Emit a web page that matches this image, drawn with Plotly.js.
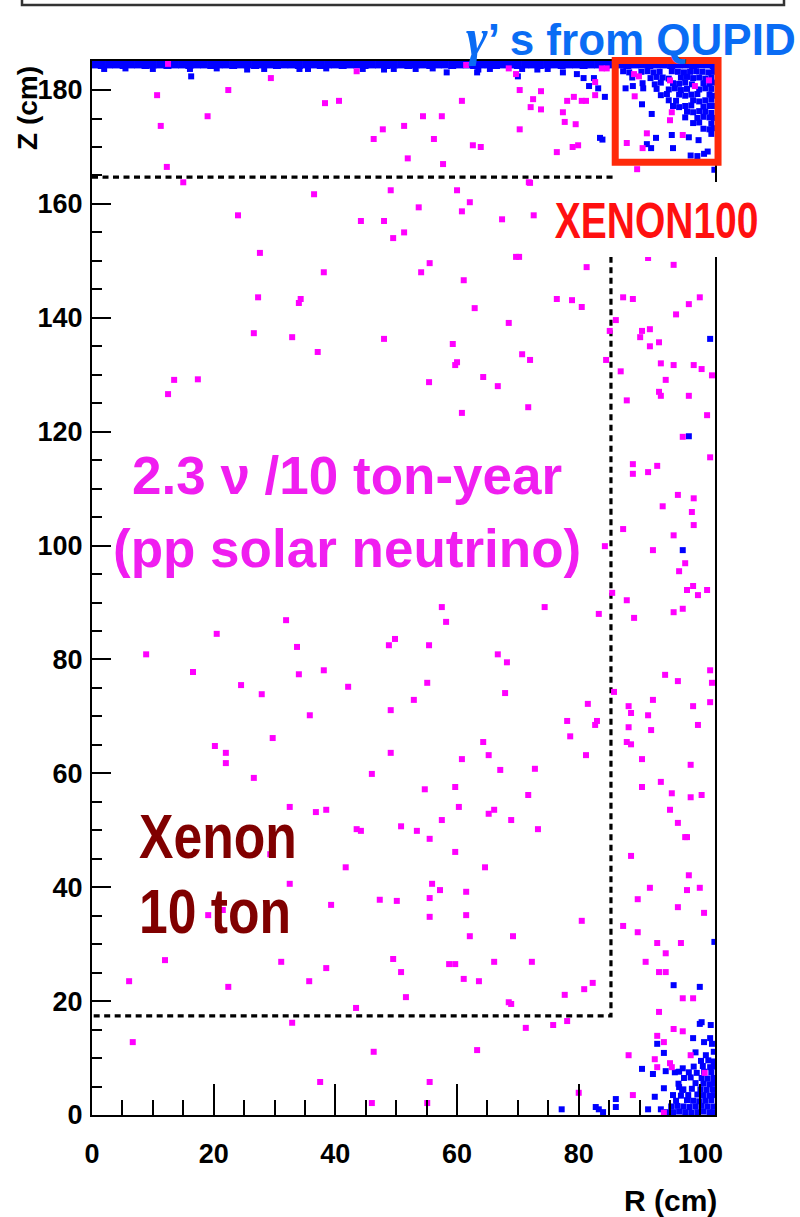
<!DOCTYPE html>
<html>
<head>
<meta charset="utf-8">
<script src="https://cdn.plot.ly/plotly-3.0.1.min.js"></script>
<style>
  html, body { margin: 0; padding: 0; background: #ffffff; }
  #chart { width: 800px; height: 1217px; }
</style>
</head>
<body>
<div id="chart"></div>
<script>
// ---------------- DATA (R in cm, Z in cm) ----------------
// pp solar neutrino events (magenta)
const neutrinoPts = [
  [12.5,184.6],[10.7,179.1],[11.3,173.7],[12.3,166.5],[15.0,163.8],[19.0,175.4],[22.4,180.0],[29.4,182.1],
  [38.3,177.7],[40.6,178.1],[43.5,183.3],[46.3,171.4],[47.8,173.1],[51.3,173.7],[51.9,168.0],[54.4,175.4],
  [56.2,171.4],[57.5,175.4],[57.7,167.0],[60.8,178.1],[61.5,184.4],[62.6,170.3],[63.9,170.0],[68.5,183.8],
  [69.7,182.8],[70.3,180.0],[70.3,173.1],[71.8,163.8],[72.1,177.0],[72.5,178.4],[73.8,179.8],[73.8,176.6],
  [76.4,169.1],[77.4,176.1],[77.7,174.4],[78.1,178.1],[79.0,170.0],[79.2,178.8],[79.5,174.0],[79.9,170.3],
  [80.5,178.1],[81.2,178.1],[82.7,181.4],[82.7,179.1],[83.8,183.8],[84.6,183.8],
  [89.1,182.8],[89.9,182.4],[95.0,181.7],[99.1,180.7],[101.4,181.7],[89.2,178.9],[95.3,176.1],[95.0,174.7],
  [91.2,172.4],[97.1,172.1],[87.9,170.7],[90.5,169.8],[89.6,166.1],
  [24.0,158.0],[36.5,161.7],[49.1,162.4],[60.0,162.4],[62.1,160.3],[60.8,158.7],[53.7,159.4],[72.0,163.7],
  [72.6,158.0],[44.2,157.0],[48.0,157.0],[49.5,154.0],[51.3,155.0],[67.4,157.3],[27.6,151.4],[38.1,148.0],
  [54.1,148.0],[55.5,149.6],[69.7,150.7],[70.2,150.7],[61.1,146.6],[27.3,143.6],[34.0,142.6],[34.3,143.3],
  [62.9,141.7],[68.5,139.1],[26.6,137.3],[32.9,136.6],[48.0,136.3],[37.1,134.0],[59.3,135.4],[60.0,132.2],
  [59.7,131.7],[70.7,133.6],[72.0,132.6],[55.4,128.7],[64.3,129.6],[66.7,128.0],[12.5,126.6],[13.5,129.1],
  [17.4,129.2],[60.8,123.3],[71.7,124.3],[76.4,143.3],[78.9,143.1],
  [81.3,148.9],[95.6,149.3],[91.4,150.5],[87.3,143.6],[88.9,143.3],[99.9,143.6],[98.1,142.4],[80.5,141.9],
  [96.0,140.6],[86.1,139.6],[85.1,137.7],[90.4,137.7],[91.7,138.0],[90.1,136.6],[93.2,135.7],[91.7,135.0],
  [84.5,132.6],[93.5,132.0],[95.6,131.7],[98.9,131.7],[100.2,131.0],[86.9,130.6],[101.9,129.9],[94.3,129.1],
  [93.2,127.0],[93.5,126.3],[98.1,126.3],[87.9,125.5],[101.1,122.9],[97.1,119.1],[101.6,115.5],[88.9,114.3],
  [88.9,112.6],[92.9,114.0],[91.4,112.9],[96.3,108.9],[98.9,108.3],[93.8,106.9],[98.6,105.9],[98.9,103.6],
  [87.3,102.9],[95.6,101.8],[92.2,99.2],[97.5,96.9],[96.5,95.5],[98.8,92.9],[97.8,92.2],[99.6,91.3],
  [101.1,92.2],[85.5,91.7],[87.9,90.4],[84.3,99.9],
  [83.3,88.0],[89.1,87.3],[95.6,88.3],[97.1,88.9],[101.6,78.1],[94.2,77.3],[96.3,76.2],[101.9,75.9],
  [85.8,74.3],[92.2,72.9],[101.6,72.5],[81.5,72.2],[88.2,71.8],[98.8,71.8],[88.6,70.6],[91.4,70.2],
  [83.0,69.2],[82.7,68.5],[88.2,68.1],[99.6,68.5],[91.9,67.6],[87.9,65.5],[88.6,65.1],[81.2,63.2],
  [90.4,62.5],[98.4,61.5],[93.5,58.5],[90.4,57.6],[95.3,56.5],[98.4,55.8],[100.2,56.2],[95.0,53.6],
  [96.3,51.3],[97.5,48.8],[97.8,48.8],[88.6,45.5],[98.1,42.1],[91.7,39.9],[97.8,39.5],[99.9,39.9],[89.7,37.9],
  [96.3,36.5],[100.6,35.5],[80.5,34.1],[87.3,33.2],[89.7,32.1],[92.9,30.2],[96.8,30.2],[94.3,28.4],
  [91.0,26.9],[93.2,25.1],[94.3,25.1],[82.3,23.2],[80.9,22.1],[77.7,21.1],[97.1,20.5],[98.8,20.5],
  [93.2,18.1],[75.8,15.8],[78.1,16.5],[95.6,15.1],[97.1,14.7],[92.9,13.9],[94.0,12.8],[88.2,10.5],
  [92.5,9.8],[98.4,10.5],[92.9,8.4],[95.0,9.1],[95.3,8.4],[100.7,7.4],[80.0,3.9],[88.9,3.5],[94.0,0.4],
  [57.5,89.2],[58.2,86.6],[31.9,86.9],[20.5,84.5],[8.9,80.9],[16.6,77.8],[33.7,82.2],[34.0,77.4],
  [38.1,78.1],[24.5,75.5],[27.9,73.9],[35.8,70.2],[42.1,75.2],[48.8,82.5],[49.8,83.6],[55.4,82.5],
  [55.1,75.9],[52.9,72.9],[49.1,71.1],[66.7,80.9],[68.2,79.5],[67.9,74.1],[20.2,64.8],[22.0,63.6],
  [22.0,61.8],[29.7,66.2],[26.6,59.2],[49.1,63.6],[60.8,62.5],[64.3,65.5],[65.2,63.2],[67.1,60.6],
  [72.8,60.8],[46.0,59.9],[54.7,57.2],[59.7,57.6],[71.7,56.2],[32.5,54.1],[36.8,53.2],[38.5,53.6],
  [60.3,54.1],[65.2,52.9],[66.1,53.6],[57.5,51.8],[68.9,51.8],[50.8,50.7],[43.5,50.2],[44.2,49.9],
  [53.4,49.9],[55.5,48.5],[73.3,50.2],[59.7,46.2],[29.3,45.8],[41.7,43.5],[64.6,43.5],[32.5,40.6],
  [55.9,40.6],[57.2,39.5],[55.5,38.1],[61.5,39.2],[47.3,37.8],[50.1,37.6],[39.3,36.9],[55.5,34.8],
  [61.5,35.1],[19.1,35.1],[21.5,36.0],[62.1,31.4],[69.2,31.4],[12.0,27.2],[31.1,26.9],[38.5,25.8],
  [49.5,27.4],[50.8,25.1],[58.7,26.5],[59.7,26.5],[66.1,26.9],[72.3,26.9],[6.1,23.5],[22.4,22.5],
  [35.7,23.5],[61.1,23.9],[63.6,23.5],[51.6,20.7],[43.4,18.8],[68.5,19.8],[68.9,19.5],[32.9,16.2],
  [71.3,15.3],[74.4,89.2],[78.1,69.2],[78.6,66.5],
  [6.7,12.8],[37.5,5.8],[46.3,11.1],[46.0,2.1],[55.1,2.1],[55.5,5.8],[63.3,11.4]
];

// gamma events from QUPIDs (blue): top face band
const gammaBandR = [0.4,1.6,2.8,4.0,5.2,6.4,7.6,8.8,10.0,11.2,12.4,13.6,14.8,16.0,17.2,18.4,19.6,20.8,22.0,23.2,
  24.4,25.6,26.8,28.0,29.2,30.4,31.6,32.8,34.0,35.2,36.4,37.6,38.8,40.0,41.2,42.4,43.6,44.8,46.0,47.2,
  48.4,49.6,50.8,52.0,53.2,54.4,55.6,56.8,58.0,59.2,60.4,61.6,62.8,64.0,65.2,66.4,67.6,68.8,70.0,71.2,
  72.4,73.6,74.8,76.0,77.2,78.4,79.6,80.8,82.0,83.2,84.4,85.6,86.8,88.0,89.2,90.4,91.6,92.8,94.0,95.2,
  96.4,97.6,98.8,100.0,101.2,102.2];
const gammaBandZ = [184.5,184.4,184.5,184.5,184.4,184.5,184.5,184.4,184.5,184.5,184.4,184.5,184.5,184.4,184.5,184.5,184.4,184.5,184.5,184.4,
  184.5,184.5,184.4,184.5,184.5,184.4,184.5,184.5,184.4,184.5,184.5,184.4,184.5,184.5,184.4,184.5,184.5,184.4,184.5,184.5,
  184.4,184.5,184.5,184.4,184.5,184.5,184.4,184.5,184.5,184.4,184.5,184.5,184.4,184.5,184.5,184.4,184.5,184.5,184.4,184.5,
  184.5,184.4,184.5,184.5,184.4,184.5,184.5,184.4,184.5,184.5,184.4,184.5,184.5,184.4,184.5,184.5,184.4,184.5,184.5,184.4,
  184.5,184.5,184.4,184.5,184.5,184.4];

// gamma events from QUPIDs (blue): individual hits
const gammaPts = [
  [16.3,182.4],[58.3,183.1],[63.3,183.1],[70.0,182.4],[77.4,183.1],[79.7,182.8],[80.8,182.1],[81.7,180.7],
  [82.5,182.1],[83.2,180.3],[84.3,178.8],[83.5,171.6],[83.9,171.3],[87.7,180.3],[88.9,180.7],[90.6,180.3],
  [90.4,177.5],[92.0,175.8],[95.3,172.1],[92.7,171.6],[91.2,170.5],[91.9,169.8],[95.5,169.8],[98.1,171.7],
  [99.7,171.2],[98.4,168.5],[99.5,168.4],[100.6,168.8],[101.2,169.2],[102.3,166.0],
  [2.0,183.7],[5.5,183.8],[10.0,183.7],[16.1,183.7],[20.5,183.8],[25.5,183.6],[28.3,183.7],[34.1,183.7],
  [35.5,183.7],[38.5,183.8],[44.5,183.7],[48.0,183.6],[49.6,183.7],[53.2,183.7],[56.0,183.8],[63.5,183.6],
  [65.4,183.7],[70.7,183.7],[73.2,183.6],[74.9,183.7],
  // top-right corner (near the QUPIDs)
  [87.3,183.3],[88.3,183.1],[90.3,183.2],[91.3,183.3],[92.3,183.1],[93.3,183.2],[95.3,183.3],
  [96.3,183.2],[97.3,183.1],[98.3,183.2],[99.3,183.3],[100.3,183.2],[101.3,183.1],[102.2,183.2],
  [88.8,182.2],[91.8,182.1],[92.8,182.3],[93.8,182.2],[94.8,182.0],[96.8,182.2],
  [97.8,182.3],[98.8,182.1],[99.8,182.2],[100.8,182.0],[101.8,182.2],
  [90.5,181.2],[92.5,181.0],[93.5,181.3],[95.5,181.2],[96.5,181.1],[97.5,181.3],[98.6,181.0],[100.5,181.2],
  [101.5,181.1],[102.2,181.3],
  [92.8,180.2],[94.8,180.1],[95.8,180.3],[96.8,180.0],[97.8,180.2],[99.8,180.1],[100.8,180.3],[101.8,180.2],
  [93.5,179.1],[94.5,179.3],[96.5,179.2],[97.5,179.0],[98.5,179.2],[99.5,179.3],[101.5,179.2],[102.2,179.0],
  [94.8,178.2],[96.0,178.1],[98.8,178.2],[99.8,178.0],[100.8,178.2],[101.8,178.3],
  [95.5,177.2],[96.5,177.0],[97.5,177.2],[98.5,177.3],[100.5,177.1],[101.5,177.2],[102.2,177.2],
  [97.8,176.2],[98.8,176.1],[99.8,176.3],[100.8,176.2],[101.8,176.0],
  [97.5,175.2],[99.5,175.1],[100.5,175.3],[101.5,175.2],[102.2,175.1],
  [98.8,174.2],[99.8,174.3],[101.8,174.1],
  [100.5,173.2],[101.5,173.1],[102.2,173.3],[101.8,172.3],
  // middle
  [101.6,136.3],[98.1,119.2],[97.1,99.2],
  // bottom-right corner
  [94.5,0.5],[95.5,0.5],[96.5,0.6],[97.5,0.5],[98.5,0.4],[99.5,0.5],[100.5,0.6],[101.5,0.5],[102.2,0.5],
  [95.2,1.5],[96.2,1.6],[97.2,1.5],[98.2,1.4],[99.2,1.5],[100.2,1.6],[101.2,1.5],[102.2,1.5],
  [96.0,2.5],[97.8,2.6],[98.8,2.5],[99.8,2.4],[100.8,2.5],[101.8,2.6],
  [95.5,3.5],[96.8,3.4],[98.0,3.5],[99.5,3.6],[100.5,3.5],[101.5,3.4],[102.2,3.5],
  [97.2,4.5],[98.6,4.6],[100.0,4.5],[101.0,4.4],[102.0,4.5],
  [96.4,5.5],[99.2,5.6],[100.5,5.5],[101.5,5.4],[102.2,5.5],
  [97.3,6.5],[98.4,6.6],[100.2,6.5],[101.2,6.4],[102.2,6.5],
  [95.8,7.5],[99.4,7.4],[100.6,7.6],[101.8,7.5],
  [98.9,8.5],[100.4,8.6],[101.6,8.4],[102.2,8.5],
  [100.1,9.5],[101.3,9.6],[102.2,9.4],
  [102.3,30.4],[95.6,22.8],[99.9,22.5],[99.9,16.0],[100.2,16.3],[101.7,15.8],[98.8,13.5],[92.9,12.5],
  [100.6,12.8],[101.6,13.5],[101.9,12.5],[94.0,10.9],[102.2,11.1],[90.4,8.1],[94.3,7.7],[92.2,7.2],
  [97.1,8.2],[98.1,7.5],[96.5,7.6],[94.0,4.7],[92.5,3.2],[86.1,2.8],[86.1,1.4],[82.8,1.4],
  [83.3,1.0],[84.0,0.5],[77.2,1.0],[91.4,1.0],[93.5,1.0],[96.5,4.9],[97.0,4.4],[99.2,11.0],[100.9,10.5]
];

// fiducial volume boundary (dashed)
const fiducialR = [0, 85.3, 85.3, 0];
const fiducialZ = [164.7, 164.7, 17.4, 17.4];

// QUPID highlight box (data coords)
const qupidBoxR = [86.0, 102.9];
const qupidBoxZ = [167.3, 185.2];

const xTickVals = [0, 20, 40, 60, 80, 100];
const yTickVals = [0, 20, 40, 60, 80, 100, 120, 140, 160, 180];
const xRange = [0, 102.4];
const yRange = [0, 185.1];

// ---------------- LAYOUT HELPERS ----------------
const W = 800, H = 1217;
const M = {l: 92, r: 85, t: 61, b: 102};
const PW = W - M.l - M.r, PH = H - M.t - M.b;
const px = x => (x - M.l) / PW;          // pixel -> paper x
const py = y => (H - M.b - y) / PH;      // pixel -> paper y
const dx = v => (v - xRange[0]) / (xRange[1] - xRange[0]);
const dy = v => (v - yRange[0]) / (yRange[1] - yRange[0]);

const SANS = 'Liberation Sans, Arial, sans-serif';

const traces = [
  {
    x: fiducialR, y: fiducialZ, type: 'scatter', mode: 'lines',
    line: {color: '#000000', width: 3.2, dash: '6px,4.5px'}, hoverinfo: 'skip'
  },
  {
    x: gammaBandR, y: gammaBandZ, type: 'scatter', mode: 'markers',
    marker: {symbol: 'square', size: 8, color: '#0000ff', line: {width: 0}}
  },
  {
    x: gammaPts.map(p => p[0]), y: gammaPts.map(p => p[1]), type: 'scatter', mode: 'markers',
    marker: {symbol: 'square', size: 6, color: '#0000ff', line: {width: 0}}
  },
  {
    x: neutrinoPts.map(p => p[0]), y: neutrinoPts.map(p => p[1]), type: 'scatter', mode: 'markers',
    marker: {symbol: 'square', size: 6, color: '#ff00ff', line: {width: 0}}
  }
];

const axisCommon = {
  showgrid: false, zeroline: false, showline: true, linecolor: '#000000', linewidth: 2,
  mirror: true, ticks: 'inside', tickcolor: '#000000', tickwidth: 2,
  tickfont: {family: SANS, size: 27, color: '#000000', weight: 'bold'}
};

const layout = {
  width: W, height: H,
  margin: M,
  paper_bgcolor: '#ffffff', plot_bgcolor: '#ffffff',
  showlegend: false,
  xaxis: Object.assign({}, axisCommon, {
    range: xRange, tickvals: xTickVals, ticklen: 31,
    minor: {dtick: 5, tick0: 0, ticks: 'inside', ticklen: 15, tickwidth: 2, tickcolor: '#000000'},
    ticklabelstandoff: 14
  }),
  yaxis: Object.assign({}, axisCommon, {
    range: yRange, tickvals: yTickVals, ticklen: 19,
    minor: {dtick: 5, tick0: 0, ticks: 'inside', ticklen: 10, tickwidth: 2, tickcolor: '#000000'},
    ticklabelstandoff: 2
  }),
  shapes: [
    // frame of the box above the plot (cut off at the top)
    {type: 'rect', xref: 'paper', yref: 'paper', x0: px(22), x1: px(784), y0: py(5), y1: py(-30),
     line: {color: '#333333', width: 2.5}, fillcolor: 'rgba(0,0,0,0)', layer: 'above'},
    // white patch behind XENON100 label
    {type: 'rect', xref: 'paper', yref: 'paper', x0: px(546), x1: px(766), y0: py(257), y1: py(182),
     line: {width: 0}, fillcolor: '#ffffff', layer: 'above'},
    // QUPID highlight box
    {type: 'rect', xref: 'paper', yref: 'paper',
     x0: dx(qupidBoxR[0]), x1: dx(qupidBoxR[1]), y0: dy(qupidBoxZ[0]), y1: dy(qupidBoxZ[1]),
     line: {color: '#ff2a0a', width: 7}, fillcolor: 'rgba(0,0,0,0)', layer: 'above'}
  ],
  annotations: [
    {xref: 'paper', yref: 'paper', x: px(798), y: py(37), xanchor: 'right', yanchor: 'middle', showarrow: false,
     text: '<span style="font-family:Liberation Serif,serif;font-size:52px;font-style:italic">γ</span>’ s from QUPID',
     font: {family: SANS, size: 44, color: '#0a6cf4', weight: 'bold'}},
    {xref: 'paper', yref: 'paper', x: px(656), y: py(221), xanchor: 'center', yanchor: 'middle', showarrow: false,
     text: 'XENON100', font: {family: SANS, size: 50, color: '#ff1010', weight: 'bold'}},
    {xref: 'paper', yref: 'paper', x: px(347), y: py(475), xanchor: 'center', yanchor: 'middle', showarrow: false,
     text: '2.3 ν /10 ton-year', font: {family: SANS, size: 53, color: '#f01ef0', weight: 'bold'}},
    {xref: 'paper', yref: 'paper', x: px(347), y: py(548), xanchor: 'center', yanchor: 'middle', showarrow: false,
     text: '(pp solar neutrino)', font: {family: SANS, size: 53, color: '#f01ef0', weight: 'bold'}},
    {xref: 'paper', yref: 'paper', x: px(137), y: py(836), xanchor: 'left', yanchor: 'middle', showarrow: false,
     text: 'Xenon', font: {family: SANS, size: 63, color: '#800000', weight: 'bold'}},
    {xref: 'paper', yref: 'paper', x: px(137), y: py(911), xanchor: 'left', yanchor: 'middle', showarrow: false,
     text: '10 ton', font: {family: SANS, size: 63, color: '#800000', weight: 'bold'}},
    {xref: 'paper', yref: 'paper', x: px(28), y: py(108), xanchor: 'center', yanchor: 'middle', showarrow: false,
     textangle: -90, text: 'Z (cm)', font: {family: SANS, size: 28, color: '#000000', weight: 'bold'}},
    {xref: 'paper', yref: 'paper', x: px(670), y: py(1200), xanchor: 'center', yanchor: 'middle', showarrow: false,
     text: 'R (cm)', font: {family: SANS, size: 30, color: '#000000', weight: 'bold'}}
  ]
};

// condensed ("narrow") rendering for some labels: horizontal squeeze of the real text
const narrowLabels = [{idx: 1, scale: 0.78, origin: 'center'},
                      {idx: 4, scale: 0.82, origin: 'left'},
                      {idx: 5, scale: 0.82, origin: 'left'}];

Plotly.newPlot('chart', traces, layout, {staticPlot: true, displayModeBar: false}).then(gd => {
  const groups = gd.querySelectorAll('g.annotation');
  narrowLabels.forEach(n => {
    const g = groups[n.idx];
    if (!g) return;
    const t = g.querySelector('text.annotation-text');
    if (!t) return;
    const bb = t.getBBox();
    const ox = n.origin === 'left' ? bb.x : bb.x + bb.width / 2;
    const old = t.getAttribute('transform') || '';
    t.setAttribute('transform', old + ' translate(' + ox + ',0) scale(' + n.scale + ',1) translate(' + (-ox) + ',0)');
  });
});
</script>
</body>
</html>
